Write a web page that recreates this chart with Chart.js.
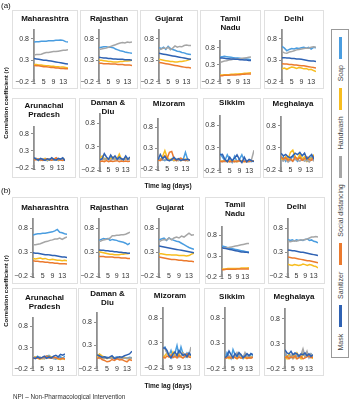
<!DOCTYPE html>
<html>
<head>
<meta charset="utf-8">
<script src="https://cdn.jsdelivr.net/npm/chart.js@4.4.1/dist/chart.umd.min.js"></script>
<style>
  body { margin: 0; background: #fff; font-family: "Liberation Sans", Arial, sans-serif; }
  #fig { position: relative; width: 350px; height: 400px; overflow: hidden; }
  .panel { position: absolute; border: 1px solid #e0e0e0; box-sizing: border-box; background: #fff; }
  .panel canvas { position: absolute; left: 0; top: 0; }
  .ptitle { position: absolute; left: 0; right: 0; text-align: center; font-weight: bold; font-size: 8px; line-height: 9px; color: #111; white-space: nowrap; }
  .lbl { position: absolute; color: #111; white-space: nowrap; }
  .ylab { font-weight: bold; font-size: 6px; transform: translate(-50%, -50%) rotate(-90deg); }
  .xlab { font-weight: bold; font-size: 6.5px; transform: translate(-50%, -50%); }
  #legend { position: absolute; left: 331px; top: 29px; width: 18px; height: 329px; border: 1px solid #999; box-sizing: border-box; }
  #legend .inner { position: absolute; left: 0; top: 327px; width: 327px; height: 16px; transform-origin: 0 0; transform: rotate(-90deg);
                   display: flex; align-items: center; justify-content: space-evenly; font-size: 7px; color: #444; }
  #legend .sw { display: inline-block; width: 22px; height: 3px; }
</style>
</head>
<body>
<div id="fig"></div>
<script>
// lags in days, ticks
const lags = [1, 2, 3, 4, 5, 6, 7, 8, 9, 10, 11, 12, 13, 14, 15];
const xTicks = [1, 5, 9, 13];
const yTicks = [-0.2, 0.3, 0.8];
const seriesNames = ["Mask", "Sanitizer", "Social distancing", "Handwash", "Soap"];
const seriesKeys = ["mask", "sanitizer", "distancing", "handwash", "soap"];

// (a)
const maharashtraA = {
  mask:       [0.34,0.33,0.32,0.31,0.30,0.30,0.29,0.28,0.27,0.26,0.25,0.24,0.23,0.22,0.21],
  sanitizer:  [0.18,0.17,0.17,0.16,0.15,0.15,0.14,0.13,0.13,0.12,0.12,0.11,0.11,0.10,0.10],
  distancing: [0.42,0.43,0.43,0.44,0.46,0.48,0.48,0.49,0.50,0.50,0.51,0.52,0.53,0.53,0.54],
  handwash:   [0.20,0.20,0.19,0.19,0.18,0.17,0.17,0.16,0.16,0.15,0.15,0.14,0.14,0.13,0.12],
  soap:       [0.72,0.73,0.73,0.74,0.74,0.74,0.75,0.75,0.75,0.76,0.76,0.77,0.76,0.73,0.72]
};
const rajasthanA = {
  mask:       [0.37,0.36,0.35,0.35,0.34,0.34,0.33,0.33,0.32,0.32,0.32,0.31,0.31,0.31,0.30],
  sanitizer:  [0.23,0.23,0.22,0.22,0.22,0.21,0.21,0.21,0.20,0.20,0.20,0.19,0.19,0.19,0.18],
  distancing: [0.55,0.56,0.57,0.58,0.60,0.62,0.64,0.66,0.68,0.70,0.71,0.70,0.72,0.71,0.72],
  handwash:   [0.30,0.30,0.29,0.28,0.27,0.27,0.26,0.26,0.26,0.27,0.27,0.28,0.28,0.29,0.30],
  soap:       [0.59,0.60,0.61,0.61,0.60,0.60,0.59,0.56,0.54,0.52,0.51,0.49,0.48,0.47,0.46]
};
const gujaratA = {
  mask:       [0.46,0.45,0.44,0.43,0.42,0.41,0.40,0.39,0.38,0.37,0.36,0.35,0.34,0.33,0.32],
  sanitizer:  [0.25,0.24,0.23,0.22,0.21,0.20,0.19,0.18,0.17,0.16,0.15,0.14,0.13,0.13,0.12],
  distancing: [0.54,0.56,0.58,0.57,0.60,0.54,0.58,0.63,0.60,0.62,0.61,0.64,0.65,0.64,0.64],
  handwash:   [0.32,0.31,0.30,0.29,0.28,0.27,0.27,0.26,0.26,0.27,0.27,0.28,0.29,0.31,0.33],
  soap:       [0.59,0.57,0.60,0.55,0.62,0.57,0.55,0.53,0.51,0.50,0.48,0.47,0.45,0.44,0.43]
};
const tamilNaduA = {
  mask:       [0.50,0.50,0.49,0.48,0.48,0.47,0.47,0.46,0.46,0.45,0.45,0.44,0.44,0.43,0.43],
  sanitizer:  [-0.02,-0.02,-0.01,-0.01,-0.01,0.00,0.00,0.00,0.01,0.01,0.02,0.02,0.03,0.03,0.03],
  distancing: [0.37,0.39,0.41,0.42,0.44,0.45,0.46,0.46,0.47,0.48,0.49,0.50,0.51,0.52,0.53],
  handwash:   [0.00,0.00,0.01,0.01,0.01,0.02,0.02,0.03,0.03,0.04,0.04,0.05,0.05,0.06,0.07],
  soap:       [0.53,0.54,0.55,0.54,0.53,0.52,0.51,0.50,0.50,0.49,0.48,0.48,0.47,0.46,0.45]
};
const delhiA = {
  mask:       [0.36,0.36,0.35,0.35,0.34,0.34,0.33,0.33,0.32,0.31,0.30,0.29,0.28,0.28,0.27],
  sanitizer:  [0.22,0.21,0.21,0.20,0.20,0.19,0.19,0.18,0.17,0.17,0.16,0.15,0.14,0.13,0.12],
  distancing: [0.50,0.47,0.46,0.49,0.50,0.52,0.54,0.55,0.56,0.57,0.58,0.58,0.60,0.61,0.60],
  handwash:   [0.10,0.12,0.09,0.12,0.14,0.13,0.11,0.13,0.12,0.10,0.11,0.08,0.09,0.06,0.04],
  soap:       [0.62,0.58,0.52,0.55,0.57,0.56,0.58,0.57,0.59,0.60,0.58,0.60,0.56,0.60,0.59]
};
const arunachalA = {
  mask:       [0.10,0.06,0.03,0.08,0.05,0.02,0.07,0.04,0.10,0.05,0.03,0.08,0.06,0.10,0.01],
  sanitizer:  [0.03,0.05,0.06,0.04,0.02,0.05,0.07,0.04,0.03,0.06,0.10,0.05,0.03,0.02,0.04],
  distancing: [0.12,0.04,0.06,0.03,0.07,0.05,0.04,0.06,0.03,0.05,0.07,0.04,0.06,0.03,0.05],
  handwash:   [0.05,0.07,0.04,0.02,0.06,0.08,0.03,0.05,0.07,0.04,0.06,0.03,0.05,0.08,0.04],
  soap:       [0.05,0.08,0.02,0.06,0.03,0.07,0.01,0.05,0.08,0.03,0.06,0.02,0.07,0.04,0.05]
};
const damanDiuA = {
  mask:       [0.02,0.04,0.15,0.08,0.03,0.12,0.05,0.10,0.03,0.08,0.04,0.02,0.10,0.03,0.08],
  sanitizer:  [-0.02,-0.01,-0.02,0.00,-0.02,-0.01,-0.02,-0.01,0.00,-0.02,-0.01,-0.02,-0.01,-0.02,-0.01],
  distancing: [0.03,0.02,0.04,0.02,0.03,0.01,0.03,0.04,0.02,0.03,0.02,0.04,0.03,0.02,0.03],
  handwash:   [0.05,0.10,0.02,0.06,0.03,0.05,0.08,0.02,0.04,0.14,0.03,0.02,0.06,0.03,0.05],
  soap:       [0.04,0.03,0.05,0.02,0.04,0.06,0.03,0.02,0.05,0.03,0.04,0.02,0.05,0.04,0.02]
};
const mizoramA = {
  mask:       [0.02,0.15,0.05,0.10,0.02,0.00,0.03,0.08,0.02,0.05,0.00,0.03,0.02,0.04,0.01],
  sanitizer:  [0.02,0.00,0.05,0.12,0.05,0.20,0.22,0.05,0.00,0.04,0.06,0.02,0.00,0.03,0.01],
  distancing: [0.00,0.02,0.01,0.03,0.02,0.00,0.02,0.04,0.01,0.00,0.03,0.02,0.01,0.00,0.02],
  handwash:   [0.00,0.02,0.10,0.24,0.08,0.02,0.05,0.00,0.03,0.02,0.00,0.02,0.04,0.00,0.02],
  soap:       [0.00,0.05,0.02,0.00,0.04,0.01,0.02,0.00,0.03,0.01,0.05,0.02,0.20,0.02,0.00]
};
const sikkimA = {
  mask:       [0.15,0.16,0.05,0.00,0.10,0.02,0.08,0.15,0.05,-0.02,0.10,0.00,0.05,0.02,0.00],
  sanitizer:  [0.01,0.00,0.02,0.01,0.00,0.01,0.00,0.01,0.02,0.00,0.01,0.00,0.01,0.02,0.01],
  distancing: [0.00,0.01,0.00,0.02,0.00,0.01,0.00,0.02,0.01,0.00,0.02,0.01,0.00,0.05,0.25],
  handwash:   [0.00,0.02,0.01,0.00,0.02,0.01,0.02,0.00,0.01,0.02,0.00,0.01,0.02,0.01,0.02],
  soap:       [0.18,0.10,0.02,0.15,0.05,-0.02,0.12,0.00,0.05,0.15,0.02,0.00,0.01,0.00,0.02]
};
const meghalayaA = {
  mask:       [0.18,0.12,0.15,0.10,0.08,0.12,0.18,0.15,0.20,0.12,0.18,0.05,0.10,0.15,0.05],
  sanitizer:  [0.10,0.05,0.08,0.02,0.05,0.00,0.10,0.04,0.08,0.02,0.05,0.10,0.03,0.02,0.12],
  distancing: [0.02,0.00,0.05,-0.02,0.03,0.00,0.05,0.02,0.00,0.04,0.00,0.02,-0.02,0.05,0.00],
  handwash:   [0.05,0.02,0.10,0.05,0.20,0.25,0.10,0.05,0.15,0.05,0.10,0.00,0.08,0.05,0.15],
  soap:       [0.05,0.10,0.00,0.08,0.02,0.12,0.05,0.00,0.10,0.03,0.08,0.00,0.05,0.10,0.02]
};

// (b)
const maharashtraB = {
  mask:       [0.29,0.28,0.28,0.27,0.26,0.25,0.25,0.24,0.23,0.23,0.22,0.21,0.20,0.20,0.19],
  sanitizer:  [0.12,0.11,0.11,0.10,0.10,0.09,0.09,0.08,0.08,0.07,0.07,0.06,0.06,0.06,0.05],
  distancing: [0.46,0.46,0.47,0.48,0.50,0.52,0.53,0.55,0.56,0.58,0.58,0.60,0.57,0.60,0.62],
  handwash:   [0.17,0.16,0.17,0.18,0.16,0.17,0.15,0.14,0.15,0.14,0.13,0.13,0.12,0.13,0.12],
  soap:       [0.66,0.68,0.69,0.69,0.70,0.70,0.71,0.72,0.73,0.75,0.78,0.72,0.71,0.69,0.68]
};
const rajasthanB = {
  mask:       [0.35,0.34,0.34,0.33,0.33,0.32,0.32,0.31,0.31,0.30,0.30,0.29,0.29,0.28,0.28],
  sanitizer:  [0.21,0.21,0.21,0.20,0.20,0.20,0.20,0.19,0.19,0.19,0.18,0.18,0.18,0.17,0.17],
  distancing: [0.52,0.54,0.56,0.57,0.58,0.60,0.65,0.65,0.66,0.66,0.67,0.67,0.68,0.70,0.72],
  handwash:   [0.31,0.30,0.29,0.28,0.27,0.26,0.26,0.25,0.25,0.25,0.26,0.26,0.27,0.27,0.28],
  soap:       [0.55,0.57,0.59,0.58,0.59,0.55,0.57,0.56,0.55,0.53,0.52,0.51,0.49,0.46,0.49]
};
const gujaratB = {
  mask:       [0.43,0.42,0.41,0.40,0.39,0.38,0.37,0.36,0.35,0.34,0.33,0.32,0.31,0.30,0.29],
  sanitizer:  [0.20,0.19,0.18,0.17,0.16,0.15,0.15,0.14,0.13,0.13,0.12,0.12,0.11,0.11,0.10],
  distancing: [0.52,0.55,0.57,0.56,0.60,0.56,0.60,0.62,0.60,0.64,0.62,0.66,0.70,0.66,0.67],
  handwash:   [0.27,0.27,0.26,0.25,0.25,0.24,0.24,0.24,0.23,0.23,0.23,0.22,0.23,0.26,0.28],
  soap:       [0.56,0.58,0.60,0.55,0.60,0.57,0.55,0.53,0.52,0.49,0.46,0.43,0.40,0.38,0.36]
};
const tamilNaduB = {
  mask:       [0.50,0.49,0.48,0.47,0.46,0.45,0.44,0.43,0.42,0.41,0.40,0.40,0.39,0.39,0.38],
  sanitizer:  [-0.03,-0.03,-0.02,-0.02,-0.02,-0.02,-0.02,-0.02,-0.01,-0.01,-0.01,-0.01,-0.01,-0.01,-0.01],
  distancing: [0.49,0.49,0.50,0.50,0.51,0.52,0.53,0.54,0.55,0.56,0.57,0.58,0.59,0.60,0.60],
  handwash:   [-0.01,-0.01,-0.01,0.00,0.00,0.00,0.00,0.00,0.00,0.00,0.01,0.01,0.01,0.01,0.02],
  soap:       [0.54,0.53,0.52,0.50,0.49,0.48,0.47,0.46,0.45,0.44,0.43,0.42,0.41,0.40,0.40]
};
const delhiB = {
  mask:       [0.35,0.34,0.33,0.33,0.32,0.31,0.30,0.30,0.29,0.28,0.27,0.26,0.25,0.24,0.23],
  sanitizer:  [0.20,0.19,0.18,0.18,0.17,0.16,0.15,0.14,0.13,0.12,0.12,0.11,0.10,0.09,0.08],
  distancing: [0.53,0.52,0.53,0.54,0.53,0.55,0.56,0.56,0.57,0.58,0.60,0.62,0.62,0.63,0.62],
  handwash:   [0.05,0.03,0.02,0.04,0.03,0.02,0.03,0.05,0.04,0.02,0.04,0.03,0.01,0.00,-0.03],
  soap:       [0.57,0.55,0.56,0.54,0.56,0.55,0.56,0.55,0.57,0.58,0.55,0.56,0.53,0.52,0.50]
};
const arunachalB = {
  mask:       [0.06,0.04,0.08,0.05,0.07,0.10,0.05,0.08,0.06,0.10,0.12,0.08,0.14,0.12,0.15],
  sanitizer:  [0.04,0.06,0.05,0.04,0.06,0.08,0.10,0.06,0.05,0.08,0.06,0.04,0.03,0.05,0.03],
  distancing: [0.10,0.06,0.05,0.08,0.05,0.04,0.07,0.05,0.06,0.04,0.05,0.06,0.04,0.05,0.04],
  handwash:   [0.05,0.08,0.06,0.03,0.05,0.04,0.06,0.10,0.08,0.05,0.06,0.03,0.02,0.04,0.02],
  soap:       [0.08,0.05,0.10,0.06,0.04,0.08,0.10,0.12,0.07,0.05,0.03,0.06,0.08,0.05,0.10]
};
const damanDiuB = {
  mask:       [0.10,0.08,0.05,0.06,0.03,0.05,0.08,0.02,0.04,0.06,0.05,0.08,0.10,0.12,0.18],
  sanitizer:  [0.02,0.05,0.00,-0.02,-0.05,-0.04,0.00,-0.02,0.02,-0.01,0.00,-0.03,-0.05,0.00,-0.02],
  distancing: [0.04,0.02,0.03,0.02,0.04,0.03,0.02,0.03,0.04,0.03,0.02,0.03,0.02,0.03,0.02],
  handwash:   [0.06,0.12,0.08,0.05,0.02,0.04,0.06,0.03,0.02,0.05,0.03,0.04,0.02,0.01,0.03],
  soap:       [0.08,0.06,0.04,0.06,0.05,0.03,0.05,0.04,0.06,0.03,0.05,0.04,0.03,0.05,0.04]
};
const mizoramB = {
  mask:       [0.20,0.20,0.15,0.05,0.00,0.08,0.12,0.05,0.15,0.10,0.05,0.08,0.02,0.10,0.05],
  sanitizer:  [0.02,0.00,0.04,0.02,0.06,0.01,0.03,0.00,0.05,0.02,0.00,0.04,0.08,0.02,0.01],
  distancing: [0.22,0.18,0.10,0.05,0.02,0.05,0.03,0.08,0.02,0.05,0.10,0.03,0.08,0.05,0.22],
  handwash:   [0.00,0.05,0.10,0.08,0.03,0.12,0.05,0.02,0.08,0.03,0.10,0.05,0.02,0.06,0.03],
  soap:       [0.20,0.22,0.10,0.05,0.15,0.02,0.10,0.25,0.05,0.22,0.08,0.02,0.10,0.05,0.08]
};
const sikkimB = {
  mask:       [0.02,0.05,0.15,0.08,0.02,0.10,0.05,0.12,0.08,0.02,0.05,0.10,0.06,0.10,0.08],
  sanitizer:  [0.00,0.02,0.03,0.01,0.04,0.02,0.00,0.03,0.01,0.02,0.04,0.00,0.02,0.01,0.03],
  distancing: [0.00,0.02,0.05,0.02,0.00,0.05,0.12,0.05,0.08,0.02,0.12,0.05,0.03,0.02,0.05],
  handwash:   [0.02,0.04,0.00,0.05,0.02,0.03,0.00,0.04,0.02,0.05,0.01,0.03,0.02,0.04,0.02],
  soap:       [0.00,0.12,0.05,0.00,0.18,0.08,0.02,0.10,0.05,0.00,0.08,0.05,0.02,0.10,0.05]
};
const meghalayaB = {
  mask:       [0.18,0.12,0.10,0.15,0.08,0.12,0.10,0.05,0.10,0.08,0.12,0.06,0.10,0.05,0.08],
  sanitizer:  [0.02,0.05,0.00,0.04,0.02,0.06,0.00,0.03,0.05,0.00,0.02,0.04,0.06,0.02,0.04],
  distancing: [0.15,0.05,0.02,0.08,0.00,0.05,0.10,0.02,0.08,0.20,0.05,0.15,0.02,0.10,0.05],
  handwash:   [0.05,0.00,0.10,0.03,0.08,0.02,0.12,0.05,0.00,0.10,0.04,0.12,0.05,0.08,0.00],
  soap:       [0.10,0.05,0.08,0.02,0.06,0.10,0.04,0.08,0.02,0.12,0.05,0.08,0.03,0.10,0.05]
};

const colors = { mask: "#2f62b3", sanitizer: "#eb7a2e", distancing: "#a6a6a6", handwash: "#f7bd1f", soap: "#4a9de0" };
const FONT = "'Liberation Sans', Arial, sans-serif";
const Y_W = 20, X_H = 4;

// box: [left, top, width, height], plot: [left, top, right, bottom], t: centre y of first title line
const panels = [
  { title: ["Maharashtra"], data: maharashtraA, box: [12, 10, 66, 79], plot: [34, 30, 68, 84], t: 18 },
  { title: ["Rajasthan"], data: rajasthanA, box: [80, 10, 58, 79], plot: [99, 30, 132, 84], t: 18 },
  { title: ["Gujarat"], data: gujaratA, box: [140, 10, 58, 79], plot: [159, 30, 191, 84], t: 18 },
  { title: ["Tamil", "Nadu"], data: tamilNaduA, box: [200, 10, 61, 79], plot: [220, 41, 251, 84], t: 18 },
  { title: ["Delhi"], data: delhiA, box: [264, 10, 60, 79], plot: [282, 30, 316, 84], t: 18 },
  { title: ["Arunachal", "Pradesh"], data: arunachalA, box: [12, 98, 64, 80], plot: [34, 127, 65, 168], t: 105 },
  { title: ["Daman &", "Diu"], data: damanDiuA, box: [79, 98, 58, 80], plot: [100, 114, 130, 170], t: 102 },
  { title: ["Mizoram"], data: mizoramA, box: [140, 98, 58, 80], plot: [158, 119, 190, 169], t: 103 },
  { title: ["Sikkim"], data: sikkimA, box: [203, 98, 58, 80], plot: [220, 116, 254, 172], t: 102 },
  { title: ["Meghalaya"], data: meghalayaA, box: [263, 98, 60, 80], plot: [281, 117, 314, 170], t: 103 },
  { title: ["Maharashtra"], data: maharashtraB, box: [12, 197, 66, 87], plot: [33, 219, 67, 276], t: 207 },
  { title: ["Rajasthan"], data: rajasthanB, box: [80, 197, 58, 87], plot: [99, 219, 130, 276], t: 207 },
  { title: ["Gujarat"], data: gujaratB, box: [140, 197, 60, 87], plot: [159, 219, 194, 276], t: 207 },
  { title: ["Tamil", "Nadu"], data: tamilNaduB, box: [205, 197, 60, 87], plot: [222, 227, 249, 277], t: 204 },
  { title: ["Delhi"], data: delhiB, box: [268, 197, 57, 87], plot: [288, 219, 318, 276], t: 206 },
  { title: ["Arunachal", "Pradesh"], data: arunachalB, box: [12, 288, 65, 88], plot: [33, 318, 65, 369], t: 297 },
  { title: ["Daman &", "Diu"], data: damanDiuB, box: [78, 288, 59, 88], plot: [97, 313, 132, 369], t: 293 },
  { title: ["Mizoram"], data: mizoramB, box: [140, 288, 60, 88], plot: [163, 308, 191, 368], t: 295 },
  { title: ["Sikkim"], data: sikkimB, box: [204, 288, 56, 88], plot: [225, 308, 253, 369], t: 296 },
  { title: ["Meghalaya"], data: meghalayaB, box: [264, 288, 60, 88], plot: [285, 309, 313, 369], t: 296 }
];

const fig = document.getElementById("fig");

function addLabel(text, cls, x, y, extra) {
  const el = document.createElement("div");
  el.className = "lbl " + cls;
  el.textContent = text;
  el.style.left = x + "px";
  el.style.top = y + "px";
  if (extra) Object.assign(el.style, extra);
  fig.appendChild(el);
}

function drawPanel(p) {
  const [bx, by, bw, bh] = p.box;
  const [pl, pt, pr, pb] = p.plot;
  const div = document.createElement("div");
  div.className = "panel";
  div.style.left = bx + "px";
  div.style.top = by + "px";
  div.style.width = bw + "px";
  div.style.height = bh + "px";
  const cw = bw - 2, ch = bh - 2, cx = bx + 1, cy = by + 1;
  const cv = document.createElement("canvas");
  cv.width = cw; cv.height = ch;
  cv.style.width = cw + "px"; cv.style.height = ch + "px";
  div.appendChild(cv);
  p.title.forEach((line, i) => {
    const t = document.createElement("div");
    t.className = "ptitle";
    t.textContent = line;
    t.style.top = (p.t + i * 9 - cy - 4.5) + "px";
    div.appendChild(t);
  });
  fig.appendChild(div);

  new Chart(cv, {
    type: "line",
    data: {
      datasets: seriesKeys.map((k, i) => ({
        label: seriesNames[i],
        data: lags.map((x, j) => ({ x: x, y: p.data[k][j] })),
        borderColor: colors[k],
        backgroundColor: colors[k],
        borderWidth: 1.5,
        pointRadius: 0,
        tension: 0,
        fill: false
      }))
    },
    options: {
      responsive: false,
      animation: false,
      devicePixelRatio: 1,
      layout: { padding: { left: pl - cx - Y_W, top: pt - cy, right: cx + cw - pr, bottom: cy + ch - pb - X_H } },
      plugins: { legend: { display: false }, tooltip: { enabled: false }, title: { display: false } },
      scales: {
        x: {
          type: "linear", min: 1, max: 15,
          grid: { display: false, drawTicks: false },
          border: { display: false },
          afterBuildTicks: (s) => { s.ticks = xTicks.map((v) => ({ value: v })); },
          afterFit: (s) => { s.height = X_H; },
          // mirrored labels are not clipped; negative padding drops them to the -0.2 line
          ticks: { mirror: true, padding: -4, maxRotation: 0, autoSkip: false, color: "#333", font: { size: 7, family: FONT },
                   callback: (v) => String(v) }
        },
        y: {
          min: -0.2, max: 1.0,
          afterBuildTicks: (s) => { s.ticks = yTicks.map((v) => ({ value: v })); },
          afterFit: (s) => { s.width = Y_W; },
          grid: { drawOnChartArea: false, drawTicks: true, tickLength: 3, color: "#8f8f8f", lineWidth: 1 },
          border: { color: "#8f8f8f", width: 1.8 },
          ticks: { padding: 2, color: "#333", font: { size: 7, family: FONT },
                   callback: (v) => (v < 0 ? "\u2212" : "") + Math.abs(v).toFixed(1) }
        }
      }
    }
  });
}

panels.forEach(drawPanel);

// figure labels
addLabel("(a)", "", 1, 1, { fontSize: "8px" });
addLabel("(b)", "", 1, 186, { fontSize: "8px" });
addLabel("Correlation coefficient (r)", "ylab", 6, 103);
addLabel("Correlation coefficient (r)", "ylab", 6, 291);
addLabel("Time lag (days)", "xlab", 168, 185);
addLabel("Time lag (days)", "xlab", 168, 385);
addLabel("NPI \u2013 Non-Pharmacological Intervention", "", 13, 393, { fontSize: "6.3px", color: "#333" });

// legend (rotated, reads bottom to top)
const legend = document.createElement("div");
legend.id = "legend";
const inner = document.createElement("div");
inner.className = "inner";
seriesKeys.forEach((k, i) => {
  const s = document.createElement("span");
  s.textContent = seriesNames[i];
  inner.appendChild(s);
  const sw = document.createElement("span");
  sw.className = "sw";
  sw.style.background = colors[k];
  inner.appendChild(sw);
});
legend.appendChild(inner);
fig.appendChild(legend);
</script>
</body>
</html>
